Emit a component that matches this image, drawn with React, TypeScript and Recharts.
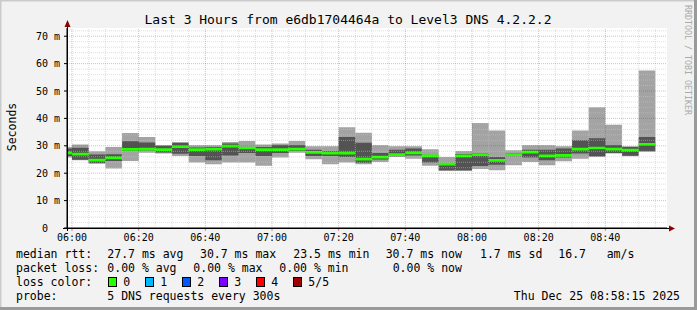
import React from "react";
import {
  ComposedChart,
  Area,
  XAxis,
  YAxis,
  CartesianGrid,
  ReferenceLine,
} from "recharts";

// minutes after 06:00, one 5-minute step each (first one is the partial step)
const times = [
  -1.5, 0, 5, 10, 15, 20, 25, 30, 35, 40, 45, 50, 55, 60, 65, 70, 75, 80, 85,
  90, 95, 100, 105, 110, 115, 120, 125, 130, 135, 140, 145, 150, 155, 160, 165,
  170,
];
const endTime = 175;

// ms
const maxMs = [
  29.6, 30.5, 28.0, 29.6, 34.7, 33.2, 30.2, 31.4, 30.2, 30.2, 31.4, 31.8, 30.5,
  30.8, 31.8, 29.8, 29.8, 36.8, 34.8, 30.2, 29.8, 29.8, 28.7, 25.9, 28.1, 38.3,
  35.6, 28.4, 30.2, 30.2, 29.8, 35.6, 44.1, 37.7, 29.8, 57.5,
];
const hiMs = [
  29.0, 29.3, 26.8, 26.9, 31.7, 31.2, 30.0, 31.0, 29.4, 29.6, 30.8, 29.6, 29.6,
  30.2, 30.2, 28.6, 28.1, 33.2, 31.1, 27.4, 28.6, 29.0, 26.2, 23.5, 27.0, 27.4,
  25.9, 27.4, 28.6, 28.6, 29.0, 32.0, 32.8, 30.2, 29.6, 33.2,
];
const medMs = [
  27.4, 27.0, 24.8, 25.6, 28.7, 28.8, 28.6, 29.7, 28.6, 28.8, 29.9, 29.2, 28.6,
  28.6, 28.8, 27.6, 27.3, 27.3, 25.1, 25.9, 26.8, 27.4, 26.3, 23.3, 26.3, 26.8,
  24.7, 26.8, 27.7, 26.3, 26.5, 28.8, 29.2, 28.8, 28.4, 30.5,
];
const loMs = [
  26.2, 24.9, 23.6, 24.5, 28.1, 28.3, 27.6, 27.1, 26.3, 24.7, 26.5, 27.4, 26.3,
  27.4, 28.1, 26.3, 26.3, 25.9, 23.8, 25.0, 26.2, 26.5, 23.9, 21.1, 21.1, 22.6,
  23.1, 26.2, 25.7, 24.7, 25.7, 27.2, 26.2, 27.4, 26.4, 28.1,
];
const minMs = [
  25.7, 24.7, 23.5, 21.7, 24.5, 27.5, 27.2, 26.3, 23.9, 23.3, 23.9, 23.9, 22.7,
  25.7, 27.5, 25.1, 23.3, 23.9, 23.3, 24.1, 25.9, 25.3, 22.7, 20.8, 20.8, 21.5,
  21.1, 22.9, 24.1, 22.9, 24.4, 25.3, 25.9, 27.2, 26.2, 27.7,
];

const xMajor = [0, 20, 40, 60, 80, 100, 120, 140, 160];
const xLabels = ["06:00", "06:20", "06:40", "07:00", "07:20", "07:40", "08:00", "08:20", "08:40"];
const xMinor = [5, 10, 15, 25, 30, 35, 45, 50, 55, 65, 70, 75, 85, 90, 95, 105, 110, 115, 125, 130, 135, 145, 150, 155, 165, 170, 175];
const yMajor = [0, 10, 20, 30, 40, 50, 60, 70];
const yMinor = [2, 4, 6, 8, 12, 14, 16, 18, 22, 24, 26, 28, 32, 34, 36, 38, 42, 44, 46, 48, 52, 54, 56, 58, 62, 64, 66, 68, 72];

const lossColors = ["#26ff00", "#00b8ff", "#0059ff", "#7e00ff", "#ff0000", "#a10000"];
const lossLabels = ["0", "1", "2", "3", "4", "5/5"];

const rows = [...times, endTime].map((t, i) => {
  const k = Math.min(i, times.length - 1);
  return {
    t,
    outer: [minMs[k], maxMs[k]],
    inner: [loMs[k], hiMs[k]],
    bar: [medMs[k] - 0.5, medMs[k] + 0.5],
  };
});

const mono = "'DejaVu Sans Mono', monospace";

const YTick = (p: any) => {
  const v = p.payload.value;
  return (
    <text x={v === 0 ? 48 : 60} y={p.y} dy={3.5} textAnchor="end" fontSize={10} fontFamily={mono} fill="#000">
      {v === 0 ? "0" : `${v} m`}
    </text>
  );
};

const XTick = (p: any) => {
  const i = xMajor.indexOf(p.payload.value);
  return (
    <text x={p.x} y={p.y} dy={8} textAnchor="middle" fontSize={10} fontFamily={mono} fill="#000">
      {xLabels[i]}
    </text>
  );
};

export default function App() {
  return (
    <div style={{ position: "absolute", left: 0, top: 0, width: 697, height: 310, background: "#f2f2f2", overflow: "hidden" }}>
      <ComposedChart width={697} height={310} data={rows} margin={{ top: 28, right: 30, left: 7, bottom: 62 }}>
        <CartesianGrid horizontal={false} vertical={false} fill="#ffffff" />
        <XAxis
          type="number"
          dataKey="t"
          domain={[-1.5, 178.5]}
          ticks={xMajor}
          height={20}
          tick={XTick}
          tickSize={3}
          tickMargin={2}
          axisLine={{ stroke: "#000" }}
          tickLine={{ stroke: "#e08080" }}
          allowDataOverflow
        />
        <YAxis
          type="number"
          domain={[0, 73]}
          ticks={yMajor}
          width={60}
          tick={YTick}
          tickSize={3}
          tickMargin={2}
          axisLine={{ stroke: "#000" }}
          tickLine={{ stroke: "#000" }}
          allowDataOverflow
        />
        <Area type="stepAfter" dataKey="outer" fill="#a3a3a3" fillOpacity={1} stroke="none" isAnimationActive={false} />
        <Area type="stepAfter" dataKey="inner" fill="#535353" fillOpacity={1} stroke="none" isAnimationActive={false} />
        <Area type="stepAfter" dataKey="bar" fill="#26ff00" fillOpacity={1} stroke="none" isAnimationActive={false} />
        {yMinor.map((v) => (
          <ReferenceLine key={"ym" + v} y={v} stroke="#c4c4c4" strokeDasharray="1 1" strokeOpacity={0.55} />
        ))}
        {xMinor.map((v) => (
          <ReferenceLine key={"xm" + v} x={v} stroke="#c4c4c4" strokeDasharray="1 1" strokeOpacity={0.55} />
        ))}
        {yMajor.slice(1).map((v) => (
          <ReferenceLine key={"yM" + v} y={v} stroke="#ff0000" strokeDasharray="1 1" strokeOpacity={0.32} />
        ))}
        {xMajor.map((v) => (
          <ReferenceLine key={"xM" + v} x={v} stroke="#ff0000" strokeDasharray="1 1" strokeOpacity={0.32} />
        ))}
      </ComposedChart>

      <svg width={697} height={310} style={{ position: "absolute", left: 0, top: 0, pointerEvents: "none" }}>
        {/* frame */}
        <line x1={0} y1={0.5} x2={697} y2={0.5} stroke="#cbcbcb" strokeWidth={2} />
        <line x1={0.5} y1={0} x2={0.5} y2={310} stroke="#cbcbcb" strokeWidth={2} />
        <line x1={0} y1={308.5} x2={697} y2={308.5} stroke="#9a9a9a" strokeWidth={3} />
        <line x1={695.5} y1={0} x2={695.5} y2={310} stroke="#9a9a9a" strokeWidth={3} />

        {/* axis arrows */}
        <line x1={67.5} y1={231} x2={67.5} y2={24} stroke="#000" />
        <polygon points="64.5,27 70.5,27 67.5,20" fill="#8b0000" />
        <line x1={63} y1={228.5} x2={670} y2={228.5} stroke="#000" />
        <polygon points="669,225.5 669,231.5 675,228.5" fill="#8b0000" />

        <text x={348} y={23.5} textAnchor="middle" fontSize={13} fontFamily={mono} fill="#000">
          Last 3 Hours from e6db1704464a to Level3 DNS 4.2.2.2
        </text>
        <text transform="translate(16,127) rotate(-90)" textAnchor="middle" fontSize={11.5} fontFamily={mono} fill="#000">
          Seconds
        </text>
        <text transform="translate(684.5,5) rotate(90)" fontSize={8.3} fontFamily={mono} fill="#aaaaaa">
          RRDTOOL / TOBI OETIKER
        </text>

        <g fontSize={11.5} fontFamily={mono} fill="#000">
          <text x={16} y={258}>median rtt:</text>
          <text x={107.3} y={258}>27.7 ms avg</text>
          <text x={200} y={258}>30.7 ms max</text>
          <text x={293.3} y={258}>23.5 ms min</text>
          <text x={385.7} y={258}>30.7 ms now</text>
          <text x={480} y={258}>1.7 ms sd</text>
          <text x={558.3} y={258}>16.7</text>
          <text x={606.7} y={258}>am/s</text>

          <text x={16} y={272}>packet loss:</text>
          <text x={107.3} y={272}>0.00 % avg</text>
          <text x={193.3} y={272}>0.00 % max</text>
          <text x={279.3} y={272}>0.00 % min</text>
          <text x={392.7} y={272}>0.00 % now</text>

          <text x={16} y={286}>loss color:</text>
          {lossColors.map((c, i) => (
            <g key={c}>
              <rect x={108.5 + i * 37} y={277.5} width={8} height={9} fill={c} stroke="#000" />
              <text x={123.3 + i * 37} y={286}>{lossLabels[i]}</text>
            </g>
          ))}

          <text x={16} y={300}>probe:</text>
          <text x={107.3} y={300}>5 DNS requests every 300s</text>
          <text x={680} y={300} textAnchor="end">Thu Dec 25 08:58:15 2025</text>
        </g>
      </svg>
    </div>
  );
}
